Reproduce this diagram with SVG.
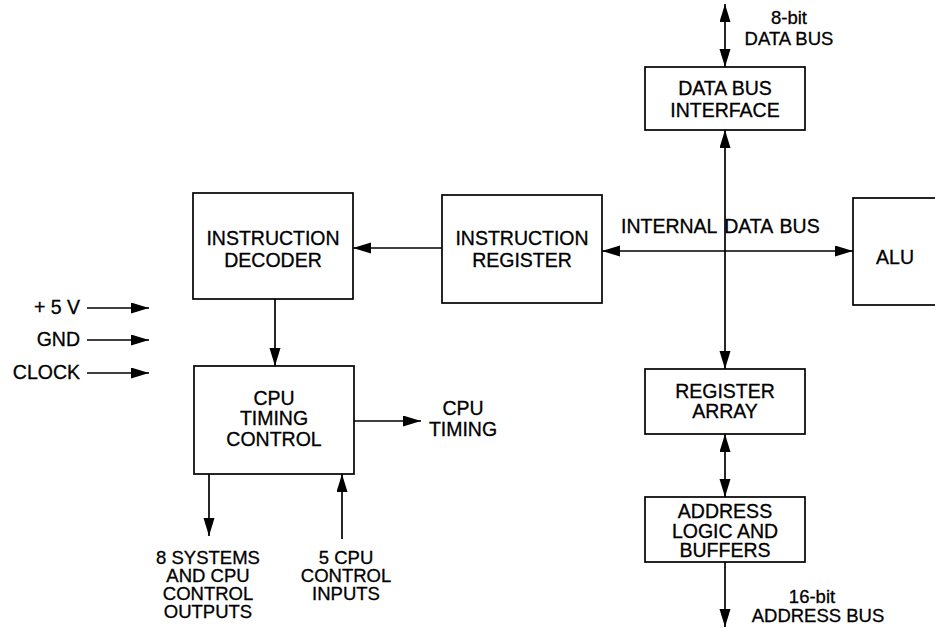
<svg xmlns="http://www.w3.org/2000/svg" width="935" height="629" viewBox="0 0 935 629">
<style>
.box{fill:#fff;stroke:#000;stroke-width:1.7}
.ln{fill:none;stroke:#000;stroke-width:1.7}
text{font-family:"Liberation Sans",Arial,sans-serif;font-size:19.5px;fill:#000;stroke:#000;stroke-width:0.3}
.s{font-size:18.5px}
.c{text-anchor:middle}
.r{text-anchor:end}
</style>
<defs>
<marker id="ah" markerUnits="userSpaceOnUse" markerWidth="19" markerHeight="12" refX="18" refY="5.5" orient="auto-start-reverse">
<path d="M0,0 L18,5.5 L0,11 z" fill="#000"/>
</marker>
</defs>
<g id="connectors">
<line class="ln" x1="725" y1="4" x2="725" y2="67" marker-start="url(#ah)" marker-end="url(#ah)"/>
<line class="ln" x1="725" y1="130" x2="725" y2="369" marker-start="url(#ah)" marker-end="url(#ah)"/>
<line class="ln" x1="602" y1="251" x2="853" y2="251" marker-start="url(#ah)" marker-end="url(#ah)"/>
<line class="ln" x1="442" y1="248" x2="353" y2="248" marker-end="url(#ah)"/>
<line class="ln" x1="275" y1="299" x2="275" y2="366" marker-end="url(#ah)"/>
<line class="ln" x1="725" y1="434" x2="725" y2="497" marker-start="url(#ah)" marker-end="url(#ah)"/>
<line class="ln" x1="725" y1="562" x2="725" y2="627" marker-end="url(#ah)"/>
<line class="ln" x1="354" y1="421" x2="421" y2="421" marker-end="url(#ah)"/>
<line class="ln" x1="209" y1="474" x2="209" y2="536" marker-end="url(#ah)"/>
<line class="ln" x1="342" y1="539" x2="342" y2="474" marker-end="url(#ah)"/>
<line class="ln" x1="87" y1="308" x2="149" y2="308" marker-end="url(#ah)"/>
<line class="ln" x1="87" y1="340" x2="149" y2="340" marker-end="url(#ah)"/>
<line class="ln" x1="87" y1="373" x2="149" y2="373" marker-end="url(#ah)"/>
</g>
<g id="dbi">
<rect class="box" x="645" y="67" width="160" height="63"/>
<text class="c" x="725" y="95">DATA BUS</text>
<text class="c" x="725" y="117">INTERFACE</text>
</g>
<g id="idec">
<rect class="box" x="193" y="193" width="160" height="106"/>
<text class="c" x="273" y="245">INSTRUCTION</text>
<text class="c" x="273" y="267">DECODER</text>
</g>
<g id="ireg">
<rect class="box" x="442" y="195" width="160" height="108"/>
<text class="c" x="522" y="245">INSTRUCTION</text>
<text class="c" x="522" y="267">REGISTER</text>
</g>
<g id="alu">
<rect class="box" x="853" y="198" width="100" height="107"/>
<text class="c" x="895" y="264">ALU</text>
</g>
<g id="cputc">
<rect class="box" x="194" y="366" width="160" height="108"/>
<text class="c" x="274" y="405">CPU</text>
<text class="c" x="274" y="425">TIMING</text>
<text class="c" x="274" y="446">CONTROL</text>
</g>
<g id="regarr">
<rect class="box" x="645" y="369" width="160" height="65"/>
<text class="c" x="725" y="398">REGISTER</text>
<text class="c" x="725" y="418">ARRAY</text>
</g>
<g id="addr">
<rect class="box" x="645" y="497" width="160" height="65"/>
<text class="c" x="725" y="518">ADDRESS</text>
<text class="c" x="725" y="538">LOGIC AND</text>
<text class="c" x="725" y="557">BUFFERS</text>
</g>
<g id="labels">
<text class="c s" x="789" y="24">8-bit</text>
<text class="c s" x="789" y="45">DATA BUS</text>
<text x="621" y="233" word-spacing="2">INTERNAL DATA BUS</text>
<text class="r" x="80" y="314">+ 5 V</text>
<text class="r" x="80" y="346">GND</text>
<text class="r" x="80" y="379">CLOCK</text>
<text class="c" x="463" y="415">CPU</text>
<text class="c" x="463" y="436">TIMING</text>
<text class="c s" x="208" y="564">8 SYSTEMS</text>
<text class="c s" x="208" y="582">AND CPU</text>
<text class="c s" x="208" y="600">CONTROL</text>
<text class="c s" x="208" y="618">OUTPUTS</text>
<text class="c s" x="346" y="564">5 CPU</text>
<text class="c s" x="346" y="582">CONTROL</text>
<text class="c s" x="346" y="600">INPUTS</text>
<text class="c s" x="812" y="603">16-bit</text>
<text class="c s" x="818" y="622">ADDRESS BUS</text>
</g>
</svg>
